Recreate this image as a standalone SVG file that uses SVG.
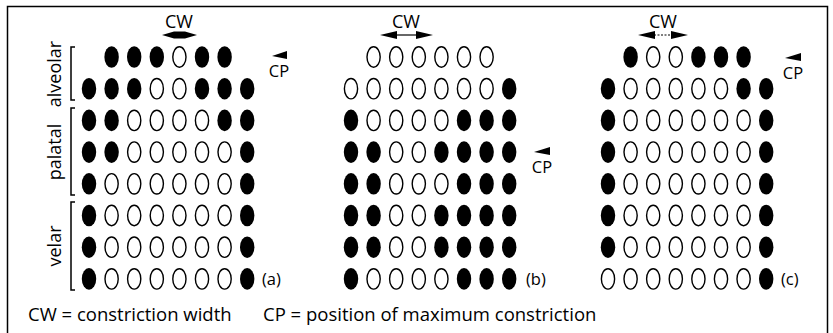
<svg xmlns="http://www.w3.org/2000/svg" xmlns:xlink="http://www.w3.org/1999/xlink" width="833" height="333" viewBox="0 0 833 333">
<style>
text{font-family:"Open Sans","Liberation Sans",sans-serif;fill:#000}
.lbl{font-size:18px}
.leg{font-size:18.5px}
.cw{font-size:18px;text-anchor:middle}
.cp{font-size:16.5px;text-anchor:middle}
.pn{font-size:16.5px}
.brk{fill:none;stroke:#000;stroke-width:1.5}
.off{fill:#fff;stroke:#000;stroke-width:1.4}
.on{fill:#000}
</style>
<defs>
<ellipse id="f" class="on" cx="0" cy="0" rx="7.2" ry="10.8"/>
<ellipse id="o" class="off" cx="0" cy="0" rx="6.6" ry="10.2"/>
</defs>
<rect width="833" height="333" fill="#fff"/>
<path d="M7.5,333 V6.5 H827.5 V333" fill="none" stroke="#000" stroke-width="1.5"/>

<g id="labels">
<text class="lbl" transform="translate(61,74) rotate(-90)" text-anchor="middle">alveolar</text>
<text class="lbl" transform="translate(61,152) rotate(-90)" text-anchor="middle">palatal</text>
<text class="lbl" transform="translate(61,246) rotate(-90)" text-anchor="middle">velar</text>
<path class="brk" d="M75,47 H71 V100 H75 M75,108 H71 V195 H75 M75,202 H71 V290 H75"/>
</g>

<g id="panel-a" transform="translate(89,57)">
<use href="#f" x="22.6" y="0"/><use href="#f" x="45.2" y="0"/><use href="#f" x="67.8" y="0"/><use href="#o" x="90.4" y="0"/><use href="#f" x="113" y="0"/><use href="#f" x="135.6" y="0"/>
<use href="#f" x="0" y="31.7"/><use href="#f" x="22.6" y="31.7"/><use href="#f" x="45.2" y="31.7"/><use href="#o" x="67.8" y="31.7"/><use href="#o" x="90.4" y="31.7"/><use href="#f" x="113" y="31.7"/><use href="#f" x="135.6" y="31.7"/><use href="#f" x="158.2" y="31.7"/>
<use href="#f" x="0" y="63.4"/><use href="#f" x="22.6" y="63.4"/><use href="#o" x="45.2" y="63.4"/><use href="#o" x="67.8" y="63.4"/><use href="#o" x="90.4" y="63.4"/><use href="#o" x="113" y="63.4"/><use href="#f" x="135.6" y="63.4"/><use href="#f" x="158.2" y="63.4"/>
<use href="#f" x="0" y="95.1"/><use href="#f" x="22.6" y="95.1"/><use href="#o" x="45.2" y="95.1"/><use href="#o" x="67.8" y="95.1"/><use href="#o" x="90.4" y="95.1"/><use href="#o" x="113" y="95.1"/><use href="#o" x="135.6" y="95.1"/><use href="#f" x="158.2" y="95.1"/>
<use href="#f" x="0" y="126.8"/><use href="#o" x="22.6" y="126.8"/><use href="#o" x="45.2" y="126.8"/><use href="#o" x="67.8" y="126.8"/><use href="#o" x="90.4" y="126.8"/><use href="#o" x="113" y="126.8"/><use href="#o" x="135.6" y="126.8"/><use href="#f" x="158.2" y="126.8"/>
<use href="#f" x="0" y="158.5"/><use href="#o" x="22.6" y="158.5"/><use href="#o" x="45.2" y="158.5"/><use href="#o" x="67.8" y="158.5"/><use href="#o" x="90.4" y="158.5"/><use href="#o" x="113" y="158.5"/><use href="#o" x="135.6" y="158.5"/><use href="#f" x="158.2" y="158.5"/>
<use href="#f" x="0" y="190.2"/><use href="#o" x="22.6" y="190.2"/><use href="#o" x="45.2" y="190.2"/><use href="#o" x="67.8" y="190.2"/><use href="#o" x="90.4" y="190.2"/><use href="#o" x="113" y="190.2"/><use href="#o" x="135.6" y="190.2"/><use href="#f" x="158.2" y="190.2"/>
<use href="#f" x="0" y="221.9"/><use href="#o" x="22.6" y="221.9"/><use href="#o" x="45.2" y="221.9"/><use href="#o" x="67.8" y="221.9"/><use href="#o" x="90.4" y="221.9"/><use href="#o" x="113" y="221.9"/><use href="#o" x="135.6" y="221.9"/><use href="#f" x="158.2" y="221.9"/>
</g>

<g id="panel-b" transform="translate(351,57)">
<use href="#o" x="22.6" y="0"/><use href="#o" x="45.2" y="0"/><use href="#o" x="67.8" y="0"/><use href="#o" x="90.4" y="0"/><use href="#o" x="113" y="0"/><use href="#o" x="135.6" y="0"/>
<use href="#o" x="0" y="31.7"/><use href="#o" x="22.6" y="31.7"/><use href="#o" x="45.2" y="31.7"/><use href="#o" x="67.8" y="31.7"/><use href="#o" x="90.4" y="31.7"/><use href="#o" x="113" y="31.7"/><use href="#o" x="135.6" y="31.7"/><use href="#f" x="158.2" y="31.7"/>
<use href="#f" x="0" y="63.4"/><use href="#o" x="22.6" y="63.4"/><use href="#o" x="45.2" y="63.4"/><use href="#o" x="67.8" y="63.4"/><use href="#o" x="90.4" y="63.4"/><use href="#f" x="113" y="63.4"/><use href="#f" x="135.6" y="63.4"/><use href="#f" x="158.2" y="63.4"/>
<use href="#f" x="0" y="95.1"/><use href="#f" x="22.6" y="95.1"/><use href="#o" x="45.2" y="95.1"/><use href="#o" x="67.8" y="95.1"/><use href="#f" x="90.4" y="95.1"/><use href="#f" x="113" y="95.1"/><use href="#f" x="135.6" y="95.1"/><use href="#f" x="158.2" y="95.1"/>
<use href="#f" x="0" y="126.8"/><use href="#f" x="22.6" y="126.8"/><use href="#o" x="45.2" y="126.8"/><use href="#o" x="67.8" y="126.8"/><use href="#o" x="90.4" y="126.8"/><use href="#f" x="113" y="126.8"/><use href="#f" x="135.6" y="126.8"/><use href="#f" x="158.2" y="126.8"/>
<use href="#f" x="0" y="158.5"/><use href="#f" x="22.6" y="158.5"/><use href="#o" x="45.2" y="158.5"/><use href="#o" x="67.8" y="158.5"/><use href="#f" x="90.4" y="158.5"/><use href="#f" x="113" y="158.5"/><use href="#f" x="135.6" y="158.5"/><use href="#f" x="158.2" y="158.5"/>
<use href="#f" x="0" y="190.2"/><use href="#f" x="22.6" y="190.2"/><use href="#o" x="45.2" y="190.2"/><use href="#o" x="67.8" y="190.2"/><use href="#f" x="90.4" y="190.2"/><use href="#f" x="113" y="190.2"/><use href="#f" x="135.6" y="190.2"/><use href="#f" x="158.2" y="190.2"/>
<use href="#f" x="0" y="221.9"/><use href="#o" x="22.6" y="221.9"/><use href="#o" x="45.2" y="221.9"/><use href="#o" x="67.8" y="221.9"/><use href="#o" x="90.4" y="221.9"/><use href="#f" x="113" y="221.9"/><use href="#f" x="135.6" y="221.9"/><use href="#f" x="158.2" y="221.9"/>
</g>

<g id="panel-c" transform="translate(608,57)">
<use href="#f" x="22.6" y="0"/><use href="#o" x="45.2" y="0"/><use href="#o" x="67.8" y="0"/><use href="#f" x="90.4" y="0"/><use href="#f" x="113" y="0"/><use href="#f" x="135.6" y="0"/>
<use href="#f" x="0" y="31.7"/><use href="#o" x="22.6" y="31.7"/><use href="#o" x="45.2" y="31.7"/><use href="#o" x="67.8" y="31.7"/><use href="#o" x="90.4" y="31.7"/><use href="#o" x="113" y="31.7"/><use href="#f" x="135.6" y="31.7"/><use href="#f" x="158.2" y="31.7"/>
<use href="#f" x="0" y="63.4"/><use href="#o" x="22.6" y="63.4"/><use href="#o" x="45.2" y="63.4"/><use href="#o" x="67.8" y="63.4"/><use href="#o" x="90.4" y="63.4"/><use href="#o" x="113" y="63.4"/><use href="#o" x="135.6" y="63.4"/><use href="#f" x="158.2" y="63.4"/>
<use href="#f" x="0" y="95.1"/><use href="#o" x="22.6" y="95.1"/><use href="#o" x="45.2" y="95.1"/><use href="#o" x="67.8" y="95.1"/><use href="#o" x="90.4" y="95.1"/><use href="#o" x="113" y="95.1"/><use href="#o" x="135.6" y="95.1"/><use href="#f" x="158.2" y="95.1"/>
<use href="#f" x="0" y="126.8"/><use href="#o" x="22.6" y="126.8"/><use href="#o" x="45.2" y="126.8"/><use href="#o" x="67.8" y="126.8"/><use href="#o" x="90.4" y="126.8"/><use href="#o" x="113" y="126.8"/><use href="#o" x="135.6" y="126.8"/><use href="#f" x="158.2" y="126.8"/>
<use href="#f" x="0" y="158.5"/><use href="#o" x="22.6" y="158.5"/><use href="#o" x="45.2" y="158.5"/><use href="#o" x="67.8" y="158.5"/><use href="#o" x="90.4" y="158.5"/><use href="#o" x="113" y="158.5"/><use href="#o" x="135.6" y="158.5"/><use href="#f" x="158.2" y="158.5"/>
<use href="#f" x="0" y="190.2"/><use href="#o" x="22.6" y="190.2"/><use href="#o" x="45.2" y="190.2"/><use href="#o" x="67.8" y="190.2"/><use href="#o" x="90.4" y="190.2"/><use href="#o" x="113" y="190.2"/><use href="#o" x="135.6" y="190.2"/><use href="#f" x="158.2" y="190.2"/>
<use href="#o" x="0" y="221.9"/><use href="#o" x="22.6" y="221.9"/><use href="#o" x="45.2" y="221.9"/><use href="#o" x="67.8" y="221.9"/><use href="#o" x="90.4" y="221.9"/><use href="#o" x="113" y="221.9"/><use href="#o" x="135.6" y="221.9"/><use href="#f" x="158.2" y="221.9"/>
</g>

<g id="annotations">
<text class="cw" x="179" y="28">CW</text>
<polygon points="162,35 174,31.5 185,31.5 197,35 185,38.5 174,38.5"/>
<text class="cw" x="406" y="28">CW</text>
<polygon points="380,35 397,31 397,39"/><polygon points="433,35 416,31 416,39"/>
<line x1="396" y1="35" x2="417" y2="35" stroke="#000" stroke-width="1.2"/>
<text class="cw" x="663" y="28">CW</text>
<polygon points="638,35 655,31 655,39"/><polygon points="688,35 671,31 671,39"/>
<line x1="654" y1="35" x2="672" y2="35" stroke="#000" stroke-width="1" stroke-dasharray="2,1.5"/>

<polygon points="272,56 287,51 287,59"/>
<text class="cp" x="279" y="77">CP</text>
<polygon points="534,152 550,147 550,155"/>
<text class="cp" x="542" y="173">CP</text>
<polygon points="785,58 801,53 801,61"/>
<text class="cp" x="793" y="79">CP</text>

<text class="pn" x="262" y="285">(a)</text>
<text class="pn" x="526" y="285">(b)</text>
<text class="pn" x="781" y="285">(c)</text>

<text class="leg" x="28" y="321">CW = constriction width</text>
<text class="leg" x="263" y="321">CP = position of maximum constriction</text>
</g>
</svg>
